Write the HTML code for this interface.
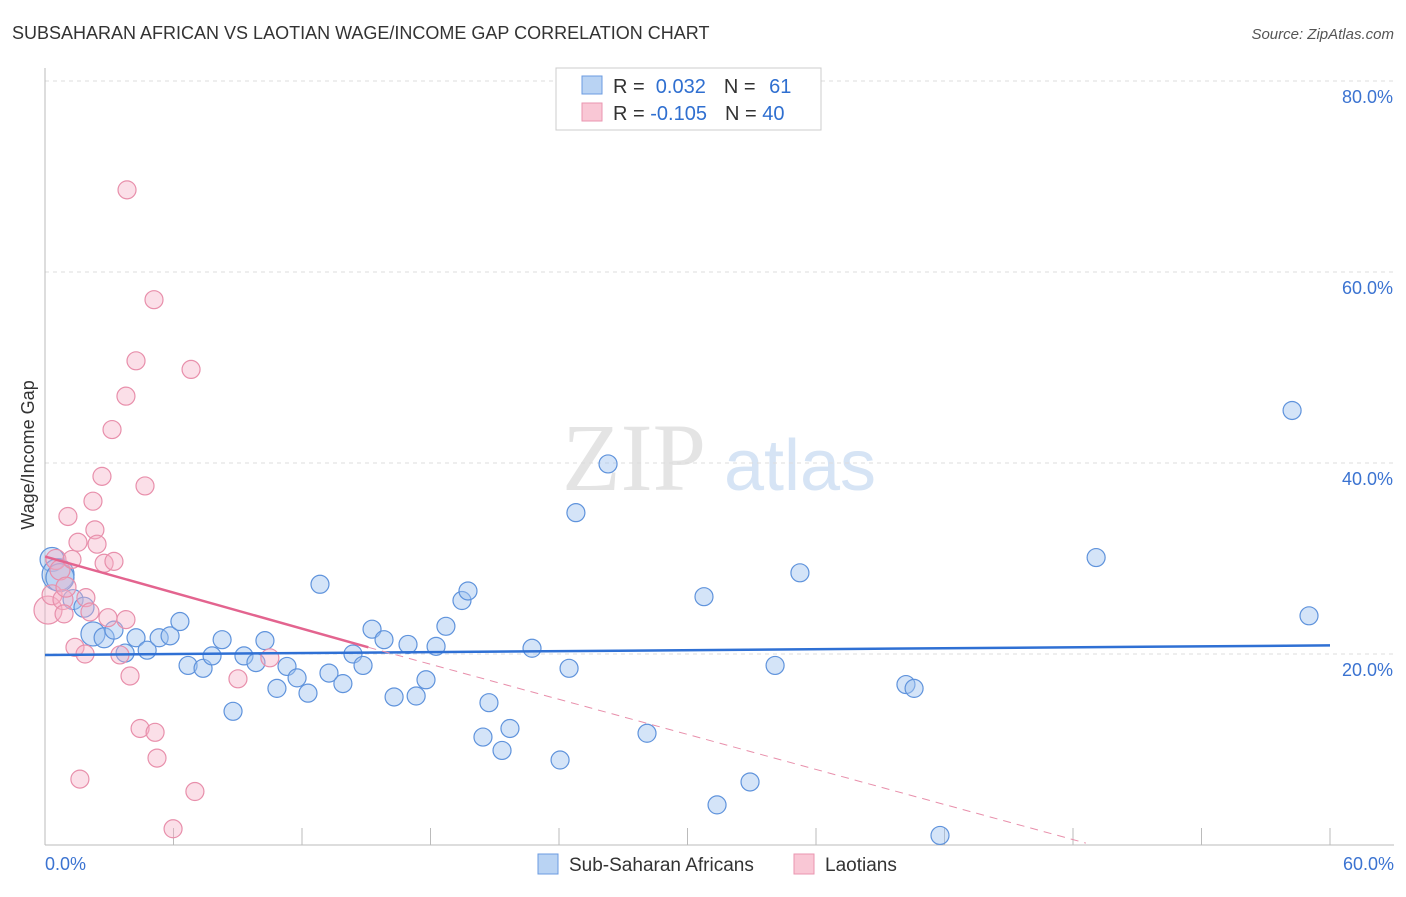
<!DOCTYPE html>
<html><head><meta charset="utf-8"><style>
body{margin:0;background:#fff;font-family:"Liberation Sans",sans-serif}
</style></head><body>
<svg id="chart" width="1406" height="892" xmlns="http://www.w3.org/2000/svg" style="font-family:'Liberation Sans',sans-serif">
<text x="12" y="39" font-size="18" fill="#333">SUBSAHARAN AFRICAN VS LAOTIAN WAGE/INCOME GAP CORRELATION CHART</text>
<text x="1394" y="39" font-size="15" fill="#555" font-style="italic" text-anchor="end">Source: ZipAtlas.com</text>
<text x="634" y="490" font-size="96" fill="#e4e4e4" font-family="Liberation Serif" text-anchor="middle">ZIP</text>
<text x="800" y="490" font-size="72" fill="#d6e4f5" text-anchor="middle">atlas</text>
<g id="grid"></g><g id="axes"></g><g id="pts"></g><g id="trend"></g>
<text transform="translate(34,455) rotate(-90)" font-size="18" fill="#333" text-anchor="middle">Wage/Income Gap</text>
<text x="45" y="870" font-size="18" fill="#3b73d1">0.0%</text>
<text x="1394" y="870" font-size="18" fill="#3b73d1" text-anchor="end">60.0%</text>
<g>
<rect x="556" y="68" width="265" height="62" fill="#fff" stroke="#ccc"/>
<rect x="582" y="76" width="20" height="18" fill="#b9d3f3" stroke="#6b9be0"/>
<rect x="582" y="103" width="20" height="18" fill="#f9c7d5" stroke="#ea96b0"/>
<text x="613" y="93" font-size="20" fill="#333">R = <tspan fill="#2f6fd0">&#160;0.032</tspan><tspan dx="18">N = </tspan><tspan fill="#2f6fd0" dx="8">61</tspan></text>
<text x="613" y="120" font-size="20" fill="#333">R = <tspan fill="#2f6fd0">-0.105</tspan><tspan dx="18">N = </tspan><tspan fill="#2f6fd0">40</tspan></text>
</g>
<g>
<rect x="538" y="854" width="20" height="20" fill="#b9d3f3" stroke="#6b9be0"/>
<text x="569" y="871" font-size="19" fill="#333">Sub-Saharan Africans</text>
<rect x="794" y="854" width="20" height="20" fill="#f9c7d5" stroke="#ea96b0"/>
<text x="825" y="871" font-size="19" fill="#333">Laotians</text>
</g>
</svg>
<script>
const yTicks=[20,40,60,80];
const yTickLabels=["20.0%","40.0%","60.0%","80.0%"];
const xTicks=[0,6,12,18,24,30,36,42,48,54,60];
const blueX=[0.33,0.61,0.7,1.31,1.82,2.24,2.76,3.22,3.74,4.25,4.77,5.33,5.84,6.3,6.68,7.38,7.8,8.27,8.78,9.29,9.85,10.27,10.83,11.3,11.77,12.28,12.84,13.26,13.91,14.38,14.85,15.27,15.83,16.3,16.95,17.33,17.79,18.26,18.72,19.47,19.75,20.45,20.73,21.34,21.71,22.74,24.05,24.47,24.79,26.29,28.11,30.77,31.38,32.92,34.09,35.25,40.2,40.58,41.79,49.08,58.23,59.02];
const blueY=[29.9,28.3,28.0,25.7,24.9,22.1,21.7,22.5,20.1,21.7,20.4,21.7,21.9,23.4,18.8,18.5,19.8,21.5,14.0,19.8,19.1,21.4,16.4,18.7,17.5,15.9,27.3,18.0,16.9,20.0,18.8,22.6,21.5,15.5,21.0,15.6,17.3,20.8,22.9,25.6,26.6,11.3,14.9,9.9,12.2,20.6,8.9,18.5,34.8,39.9,11.7,26.0,4.2,6.6,18.8,28.5,16.8,16.4,1.0,30.1,45.5,24.0];
const blueR=[12,16,14,10,10,12,10,9,9,9,9,9,9,9,9,9,9,9,9,9,9,9,9,9,9,9,9,9,9,9,9,9,9,9,9,9,9,9,9,9,9,9,9,9,9,9,9,9,9,9,9,9,9,9,9,9,9,9,9,9,9,9];
const pinkX=[0.14,0.33,0.51,0.7,0.84,0.98,1.07,0.89,1.26,1.4,1.54,1.63,1.87,1.91,2.1,2.24,2.33,2.43,2.66,2.76,2.94,3.13,3.22,3.5,3.78,3.83,3.78,3.97,4.25,4.44,4.67,5.09,5.14,5.23,5.98,6.82,7.0,9.01,10.5];
const pinkY=[24.6,26.2,29.9,28.8,25.7,27.0,34.4,24.2,29.9,20.7,31.7,6.9,20.0,25.9,24.4,36.0,33.0,31.5,38.6,29.5,23.8,43.5,29.7,19.9,23.6,68.6,47.0,17.7,50.7,12.2,37.6,57.1,11.8,9.1,1.7,49.8,5.6,17.4,19.6];
const pinkR=[14,10,10,10,10,10,9,9,9,9,9,9,9,9,9,9,9,9,9,9,9,9,9,9,9,9,9,9,9,9,9,9,9,9,9,9,9,9,9];
const blueTrend=[[0,19.9],[60,20.9]];
const pinkSolid=[[0,30.2],[15.1,20.7]];
const pinkDash=[[15.1,20.7],[48.6,0.2]];
const NS="http://www.w3.org/2000/svg";
const X=v=>45+v/60*1285, Y=v=>845-v*9.55;
function mk(t,a,p){const e=document.createElementNS(NS,t);for(const k in a)e.setAttribute(k,a[k]);document.getElementById(p).appendChild(e);return e;}
yTicks.forEach((t,i)=>{
 const l=mk('line',{x1:45,x2:1394,y1:Y(t),y2:Y(t),stroke:'#ddd','stroke-dasharray':'4,4'},'grid');
 
 
 const tx=mk('text',{x:1393,y:Y(t)+22,'font-size':18,fill:'#3b73d1','text-anchor':'end'},'grid');tx.textContent=yTickLabels[i];
 
 
});
const ax=mk('line',{x1:45,x2:45,y1:68,y2:845,stroke:'#bbb'},'axes');


const bx=mk('line',{x1:45,x2:1394,y1:845,y2:845,stroke:'#bbb'},'axes');


xTicks.forEach(t=>{const l=mk('line',{x1:X(t),x2:X(t),y1:845,y2:828,stroke:'#bbb'},'axes');
 
 });
blueX.forEach((v,i)=>{const c=mk('circle',{cx:X(v),cy:Y(blueY[i]),r:blueR[i],fill:'rgba(160,196,240,0.45)',stroke:'#5f93dc','stroke-width':1.2},'pts');
 
 });
pinkX.forEach((v,i)=>{const c=mk('circle',{cx:X(v),cy:Y(pinkY[i]),r:pinkR[i],fill:'rgba(245,175,198,0.4)',stroke:'#e88fab','stroke-width':1.2},'pts');
 
 });
function ln(p,attrs,name){const l=mk('line',Object.assign({x1:X(p[0][0]),y1:Y(p[0][1]),x2:X(p[1][0]),y2:Y(p[1][1])},attrs),'trend');
 
 }
ln(blueTrend,{stroke:'#2f70d4','stroke-width':2.5},'sub-saharan-trendline');
ln(pinkSolid,{stroke:'#e3648f','stroke-width':2.5},'laotian-trendline');
ln(pinkDash,{stroke:'#e88fab','stroke-width':1,'stroke-dasharray':'8,6'},'laotian-trendline-extension');
</script>
</body></html>
